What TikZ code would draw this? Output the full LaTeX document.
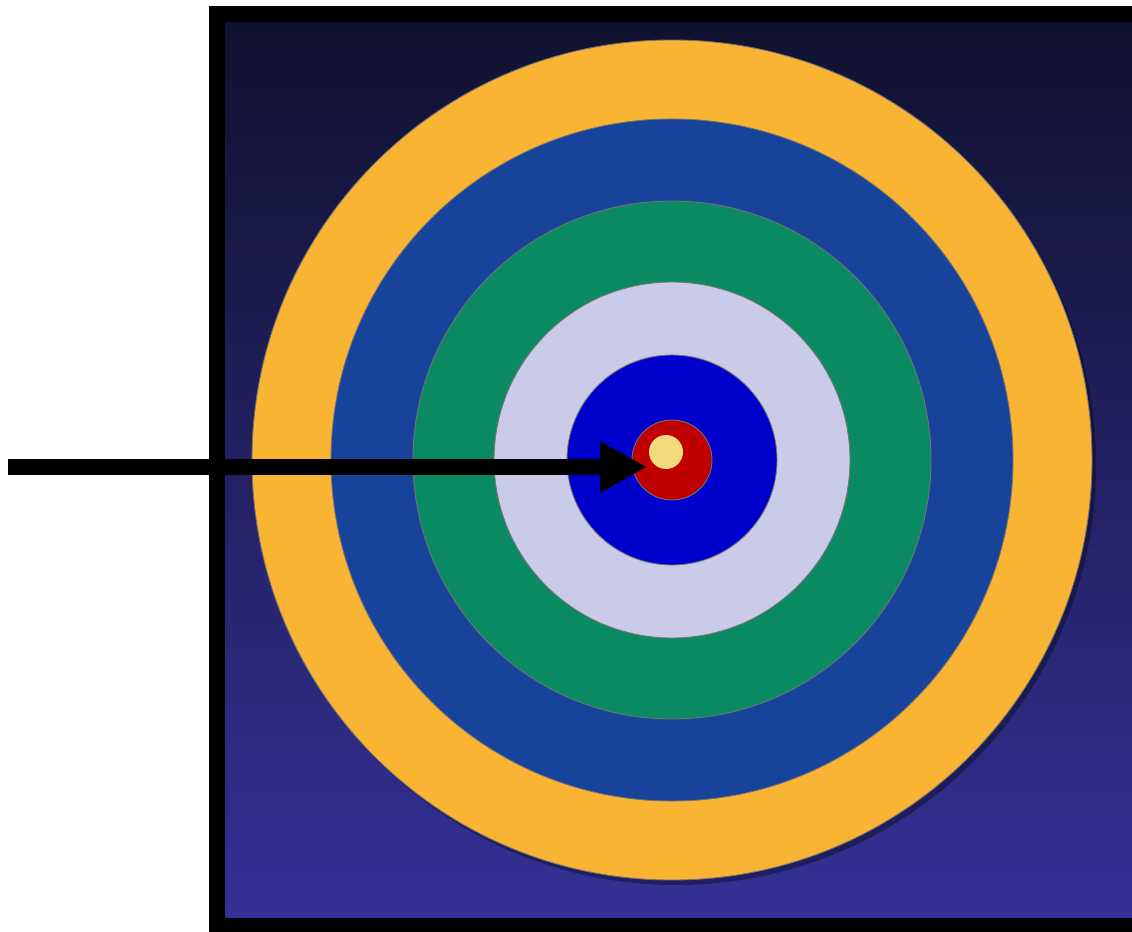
\documentclass[tikz,border=0pt]{standalone}
\usepackage{tikz}
\usetikzlibrary{arrows.meta}
\definecolor{bgtop}{HTML}{11112F}
\definecolor{bgbot}{HTML}{343196}
\definecolor{ringgold}{HTML}{F8B432}
\definecolor{ringnavy}{HTML}{17449A}
\definecolor{ringgreen}{HTML}{0A8A63}
\definecolor{ringlav}{HTML}{C9CBE9}
\definecolor{ringblue}{HTML}{0000CC}
\definecolor{ringred}{HTML}{C00000}
\definecolor{dotcream}{HTML}{F3DA7A}
\begin{document}
\begin{tikzpicture}[x=0.02cm,y=-0.02cm,line width=0.9pt]
  \useasboundingbox (0,0) rectangle (1132,932);
  \clip (0,0) rectangle (1132,932);
  % fondo con degradado
  \shade[top color=bgtop,bottom color=bgbot] (225,22) rectangle (1140,918);
  \draw[line width=0.32cm] (217,14) rectangle (1148,926);
  % diana
  \coordinate (bull) at (672,460);
  \fill[black,opacity=0.35] ([shift={(4,5)}]bull) circle[radius=420];
  \foreach \r/\c in {420/ringgold,341/ringnavy,259/ringgreen,178/ringlav,105/ringblue,40/ringred}
    \filldraw[fill=\c,draw=black!55,line width=0.5pt] (bull) circle[radius=\r];
  \fill[dotcream] (666,452) circle[radius=17];
  % flecha
  \coordinate (tail) at (8,467);
  \coordinate (tip) at (647,467);
  \draw[-{Triangle[length=0.94cm,width=0.96cm]},line width=0.32cm] (tail) -- (tip);
\end{tikzpicture}
\end{document}
